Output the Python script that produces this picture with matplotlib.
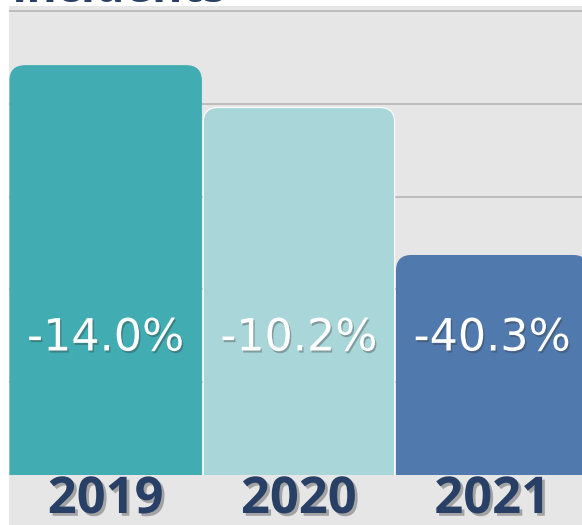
import matplotlib
matplotlib.use("Agg")
import matplotlib.pyplot as plt
import matplotlib.patheffects as pe
from matplotlib.patches import FancyBboxPatch, Rectangle

# ------------------------------------------------------------------
# DATA
# ------------------------------------------------------------------
YEARS = ["2019", "2020", "2021"]
VALUES = [88.2, 79.2, 47.3]
CHANGES = ["-14.0%", "-10.2%", "-40.3%"]
BAR_COLORS = ["#41acb1", "#a9d6d9", "#5079ad"]
GRID_TICKS = [0, 20, 40, 60, 80, 100]

NAVY = "#283f66"
PANEL = "#e6e6e6"

W, H, DPI = 582, 525, 100
fig = plt.figure(figsize=(W / DPI, H / DPI), dpi=DPI, facecolor="white")

# axes runs a little past the right edge, like the cropped original
left_px, top_px, bottom_px = 9, 6, 525
slot_px = 193.3
ax = fig.add_axes([left_px / W, 0, 3 * slot_px / W, (H - top_px) / H])
ax.set_facecolor(PANEL)

px_per_unit = (475 - 11) / 100.0
ymin = -(bottom_px - 475) / px_per_unit
ymax = 100 + (11 - top_px) / px_per_unit
ax.set_xlim(-0.5, 2.5)
ax.set_ylim(ymin, ymax)

for s in ax.spines.values():
    s.set_visible(False)
ax.set_xticks([])
ax.set_yticks([])

for t in GRID_TICKS[1:]:
    ax.axhline(t, color="#bcbcbc", lw=1.4, zorder=1)

# rounded-top bars, clipped at the baseline
bar_w = 0.99
rad_px = 15
aspect = slot_px / px_per_unit
clip = Rectangle((-0.5, 0), 3, 200, transform=ax.transData)
for i, (v, c) in enumerate(zip(VALUES, BAR_COLORS)):
    p = FancyBboxPatch((i - bar_w / 2, -10), bar_w, v + 10,
                       boxstyle=f"round,pad=0,rounding_size={rad_px / slot_px}",
                       mutation_aspect=aspect,
                       fc=c, ec="white" if i == 1 else c, lw=0.8, zorder=2)
    ax.add_patch(p)
    p.set_clip_path(clip)

# change labels inside bars
label_y = (475 - 338) / px_per_unit
for i, txt in enumerate(CHANGES):
    ax.text(i, label_y, txt, ha="center", va="center", color="white",
            fontsize=32, family="DejaVu Sans", zorder=4,
            path_effects=[pe.withSimplePatchShadow(offset=(1, -1.5),
                                                   shadow_rgbFace="#333333",
                                                   alpha=0.35)])

# year labels under bars
year_y = (475 - 500) / px_per_unit
for i, yr in enumerate(YEARS):
    ax.text(i, year_y, yr, ha="center", va="center", color=NAVY,
            fontsize=36.5, fontweight="bold", family="Open Sans", zorder=4,
            path_effects=[pe.withSimplePatchShadow(offset=(2, -2),
                                                   shadow_rgbFace="#777777",
                                                   alpha=0.6)])

# title, cut off at the top of the picture
fig.text(12 / W, 1 - 2.5 / H, "Incidents", ha="left", va="baseline",
         color=NAVY, fontsize=33.5, fontweight="bold", family="Open Sans")

fig.savefig("out.png", dpi=DPI, facecolor="white")
